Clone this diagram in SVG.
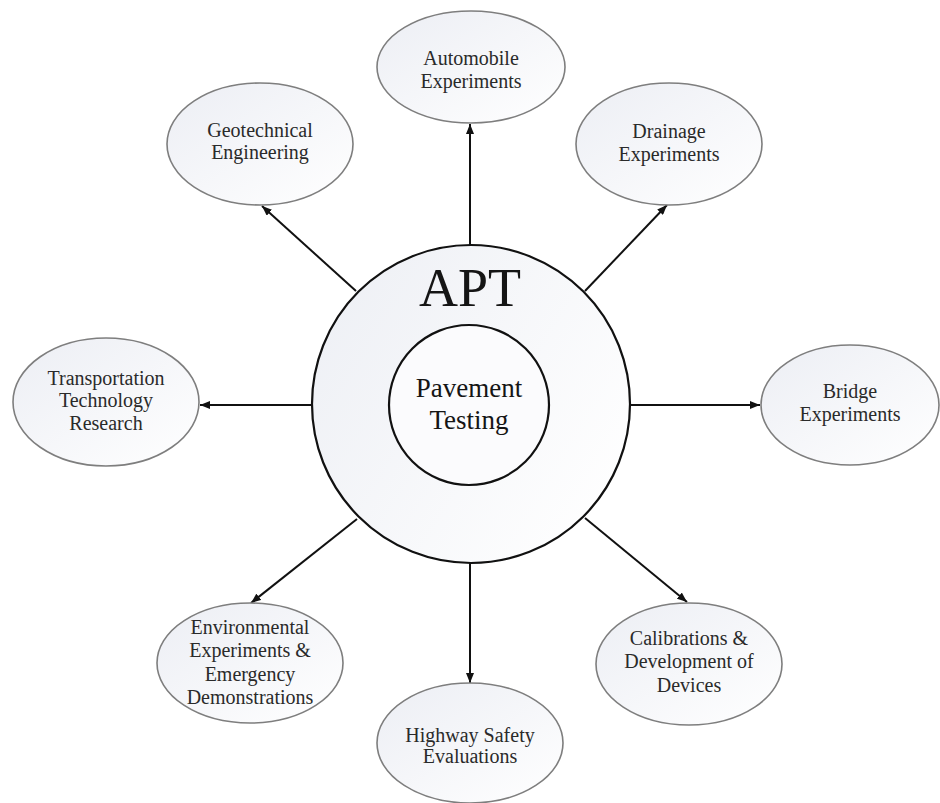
<svg xmlns="http://www.w3.org/2000/svg" width="940" height="803" viewBox="0 0 940 803">
  <defs>
    <linearGradient id="nodeFill" x1="0" y1="0" x2="1" y2="1">
      <stop offset="0" stop-color="#eceef4"/>
      <stop offset="1" stop-color="#ffffff"/>
    </linearGradient>
    <linearGradient id="hubFill" x1="0" y1="0.2" x2="1" y2="0.8">
      <stop offset="0" stop-color="#eef0f5"/>
      <stop offset="1" stop-color="#ffffff"/>
    </linearGradient>
    <marker id="arrow" viewBox="0 0 10 8" refX="10" refY="4" markerWidth="10" markerHeight="8" markerUnits="userSpaceOnUse" orient="auto">
      <path d="M0,0 L10,4 L0,8 Z" fill="#111"/>
    </marker>
  </defs>
  <style>
    .node ellipse { fill: url(#nodeFill); stroke: #7e7e7e; stroke-width: 1.6; }
    .label { font-family: "Liberation Serif", "Times New Roman", serif; font-size: 20px; fill: #2a2a2a; text-anchor: middle; }
    .hub circle { stroke: #111; stroke-width: 2.2; }
    .hub text { font-family: "Liberation Serif", "Times New Roman", serif; text-anchor: middle; fill: #151515; }
    .conn line { stroke: #111; stroke-width: 2; marker-end: url(#arrow); }
  </style>
  <rect width="940" height="803" fill="#ffffff"/>

  <!-- connectors from the hub outwards -->
  <g id="connectors" class="conn">
    <line x1="356" y1="291" x2="262" y2="206"/>
    <line x1="470" y1="245" x2="470" y2="124"/>
    <line x1="585" y1="291" x2="667" y2="205"/>
    <line x1="312" y1="405" x2="200" y2="405"/>
    <line x1="630" y1="405" x2="760" y2="405"/>
    <line x1="357" y1="519" x2="251" y2="603"/>
    <line x1="470" y1="563" x2="470" y2="683"/>
    <line x1="585" y1="518" x2="687" y2="602"/>
  </g>

  <!-- central hub -->
  <g id="apt" class="hub">
    <circle cx="471" cy="404" r="159" fill="url(#hubFill)"/>
    <text x="470" y="306" font-size="54">APT</text>
  </g>
  <g id="pavement-testing" class="hub">
    <circle cx="469" cy="405" r="80" fill="#fbfbfd"/>
    <text x="469" y="397" font-size="27">Pavement</text>
    <text x="469" y="429" font-size="27">Testing</text>
  </g>

  <!-- application areas -->
  <g id="geotechnical" class="node">
    <ellipse cx="260" cy="144" rx="93" ry="61"/>
    <text class="label" x="260" y="137">Geotechnical</text>
    <text class="label" x="260" y="159">Engineering</text>
  </g>
  <g id="automobile" class="node">
    <ellipse cx="471" cy="67" rx="94" ry="56"/>
    <text class="label" x="471" y="65">Automobile</text>
    <text class="label" x="471" y="88">Experiments</text>
  </g>
  <g id="drainage" class="node">
    <ellipse cx="669" cy="144" rx="93" ry="61"/>
    <text class="label" x="669" y="138">Drainage</text>
    <text class="label" x="669" y="161">Experiments</text>
  </g>
  <g id="transportation" class="node">
    <ellipse cx="106" cy="402" rx="93" ry="64"/>
    <text class="label" x="106" y="385">Transportation</text>
    <text class="label" x="106" y="407">Technology</text>
    <text class="label" x="106" y="430">Research</text>
  </g>
  <g id="bridge" class="node">
    <ellipse cx="850" cy="405" rx="89" ry="60"/>
    <text class="label" x="850" y="398">Bridge</text>
    <text class="label" x="850" y="421">Experiments</text>
  </g>
  <g id="environmental" class="node">
    <ellipse cx="250" cy="663" rx="93" ry="60"/>
    <text class="label" x="250" y="634">Environmental</text>
    <text class="label" x="250" y="657">Experiments &amp;</text>
    <text class="label" x="250" y="681">Emergency</text>
    <text class="label" x="250" y="704">Demonstrations</text>
  </g>
  <g id="highway" class="node">
    <ellipse cx="470" cy="743" rx="93" ry="60"/>
    <text class="label" x="470" y="742">Highway Safety</text>
    <text class="label" x="470" y="763">Evaluations</text>
  </g>
  <g id="calibrations" class="node">
    <ellipse cx="689" cy="664" rx="93" ry="61"/>
    <text class="label" x="689" y="645">Calibrations &amp;</text>
    <text class="label" x="689" y="668">Development of</text>
    <text class="label" x="689" y="692">Devices</text>
  </g>
</svg>
